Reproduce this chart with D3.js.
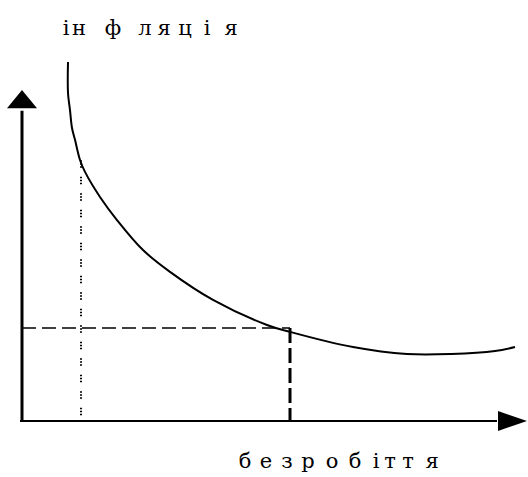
<!DOCTYPE html>
<html>
<head>
<meta charset="utf-8">
<script src="https://cdn.jsdelivr.net/npm/d3@7"></script>
<style>
  html, body { margin: 0; padding: 0; background: #fff; }
  text { font-family: "DejaVu Serif", "Liberation Serif", serif; fill: #000; }
</style>
</head>
<body>
<div id="chart-container"></div>
<script>
// Phillips curve: unemployment (x) vs inflation (y), arbitrary units
const unemployment = [0.92, 0.92, 0.96, 1.0, 1.06, 1.16, 1.26, 1.56, 1.9, 2.42, 2.96, 3.82, 4.9, 5.36, 6.62, 7.7, 8.58, 9.46, 9.86];
const inflation    = [10.88, 9.94, 9.42, 8.88, 8.52, 7.91, 7.55, 6.79, 6.09, 5.18, 4.52, 3.67, 2.91, 2.70, 2.24, 2.03, 2.03, 2.12, 2.24];

// marked points on the curve
const pointE = { u: 5.36, i: 2.82 };   // dashed projections
const pointA = { u: 1.18, i: 7.9 };    // dotted projection

const xLabel = "безробіття";
const yLabel = "інфляція";

const width = 528, height = 477;
const x = d3.scaleLinear().domain([0, 10]).range([22, 522]);
const y = d3.scaleLinear().domain([0, 10]).range([421, 91]);

// where each letter of the labels sits (centre, px) - the original spacing is uneven
const xLabelPos = [245, 266, 287, 308, 332, 355, 376, 390, 408, 432];
const yLabelPos = [66, 79, 113, 145, 164, 185, 207, 231];

const svg = d3.select("#chart-container")
  .append("svg")
    .attr("width", width)
    .attr("height", height);

// x axis line + arrow
svg.append("line")
  .attr("x1", x(-0.04)).attr("y1", y(0))
  .attr("x2", x(9.5)).attr("y2", y(0))
  .attr("stroke", "#000").attr("stroke-width", 2);
svg.append("path")
  .attr("d", `M${x(10.1)},${y(0)} L${x(9.52)},${y(0) - 10} L${x(9.52)},${y(0) + 10} Z`)
  .attr("fill", "#000");

// y axis line + arrow
svg.append("line")
  .attr("x1", x(0)).attr("y1", y(0) + 1)
  .attr("x2", x(0)).attr("y2", y(9.4))
  .attr("stroke", "#000").attr("stroke-width", 3);
svg.append("path")
  .attr("d", `M${x(0)},${y(10.03)} L${x(0) - 15},${y(9.48)} L${x(0) + 15},${y(9.48)} Z`)
  .attr("fill", "#000");

// dotted vertical from point A
svg.append("line")
  .attr("x1", x(pointA.u)).attr("y1", y(pointA.i))
  .attr("x2", x(pointA.u)).attr("y2", y(0))
  .attr("stroke", "#000").attr("stroke-width", 2)
  .attr("stroke-dasharray", "1.5,1.5,1.5,1.5,1.5,9");

// dashed horizontal from point E
svg.append("line")
  .attr("x1", x(0)).attr("y1", y(pointE.i))
  .attr("x2", x(pointE.u)).attr("y2", y(pointE.i))
  .attr("stroke", "#000").attr("stroke-width", 1.5)
  .attr("stroke-dasharray", "14,6");

// dashed vertical from point E
svg.append("line")
  .attr("x1", x(pointE.u)).attr("y1", y(pointE.i))
  .attr("x2", x(pointE.u)).attr("y2", y(0))
  .attr("stroke", "#000").attr("stroke-width", 3)
  .attr("stroke-dasharray", "15,5");

// the curve
const pts = unemployment.map((u, k) => ({ u: u, i: inflation[k] }));
const line = d3.line().x(d => x(d.u)).y(d => y(d.i)).curve(d3.curveCatmullRom);
svg.append("path")
  .datum(pts)
  .attr("d", line)
  .attr("fill", "none")
  .attr("stroke", "#000")
  .attr("stroke-width", 2);

// labels, letter by letter
svg.append("g")
  .selectAll("text")
  .data(yLabel.split(""))
  .join("text")
    .attr("x", (d, k) => yLabelPos[k])
    .attr("y", 35)
    .attr("text-anchor", "middle")
    .style("font-size", "21px")
    .text(d => d);

svg.append("g")
  .selectAll("text")
  .data(xLabel.split(""))
  .join("text")
    .attr("x", (d, k) => xLabelPos[k])
    .attr("y", 468)
    .attr("text-anchor", "middle")
    .style("font-size", "21px")
    .text(d => d);
</script>
</body>
</html>
